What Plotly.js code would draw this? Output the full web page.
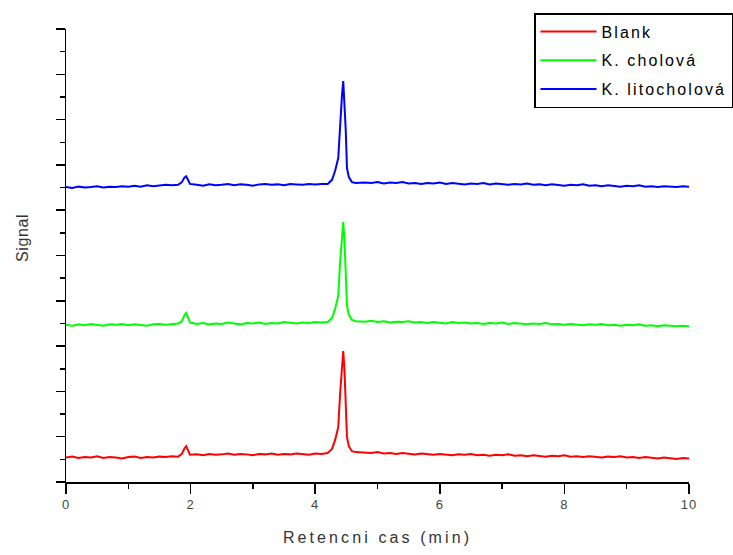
<!DOCTYPE html>
<html>
<head>
<meta charset="utf-8">
<script src="https://cdn.plot.ly/plotly-3.0.1.min.js"></script>
<style>
  html, body { margin: 0; padding: 0; background: #fff; }
  #chart { width: 733px; height: 555px; }
  .xtitle { letter-spacing: 3.1px; }
  .legendtext { letter-spacing: 2.1px; }
  .annotation-text { letter-spacing: 0.6px; }
  .xtick text { letter-spacing: 1px; }
</style>
</head>
<body>
<div id="chart"></div>
<script>
// Retention time (min)
const time = [
  0.0,0.1,0.2,0.3,0.4,0.5,0.6,0.7,0.8,0.9,1.0,1.1,1.2,1.3,1.4,1.5,1.6,1.7,1.8,
  1.86,1.90,1.93,1.96,1.99,
  2.1,2.2,2.3,2.4,2.5,2.6,2.7,2.8,2.9,3.0,3.1,3.2,3.3,3.4,3.5,3.6,3.7,3.8,3.9,4.0,4.1,
  4.20,4.27,4.32,4.37,4.40,4.43,4.45,4.47,4.49,4.51,4.54,4.59,4.65,
  4.8,4.9,5.0,5.1,5.2,5.3,5.4,5.5,5.6,5.7,5.8,5.9,6.0,6.1,6.2,6.3,6.4,6.5,6.6,6.7,
  6.8,6.9,7.0,7.1,7.2,7.3,7.4,7.5,7.6,7.7,7.8,7.9,8.0,8.1,8.2,8.3,8.4,8.5,8.6,8.7,
  8.8,8.9,9.0,9.1,9.2,9.3,9.4,9.5,9.6,9.7,9.8,9.9,10.0
];

// Signal (arbitrary units, offset traces)
const blank = [
  0.54,0.56,0.53,0.55,0.54,0.57,0.53,0.55,0.54,0.52,0.55,0.56,0.53,0.55,0.54,0.56,0.55,0.57,0.56,
  0.62,0.74,0.79,0.70,0.60,
  0.61,0.59,0.62,0.60,0.61,0.63,0.60,0.62,0.61,0.59,0.62,0.61,0.63,0.60,0.62,0.61,0.63,0.62,0.60,0.63,0.62,
  0.64,0.73,0.93,1.21,1.96,2.58,2.89,2.47,1.81,0.99,0.79,0.68,0.66,
  0.65,0.64,0.66,0.63,0.64,0.62,0.64,0.63,0.61,0.63,0.62,0.60,0.62,0.61,0.59,0.61,0.60,0.62,0.59,0.60,
  0.58,0.60,0.59,0.61,0.58,0.59,0.57,0.59,0.58,0.56,0.58,0.57,0.59,0.56,0.57,0.55,0.57,0.56,0.54,0.56,
  0.55,0.57,0.54,0.55,0.53,0.55,0.54,0.52,0.54,0.53,0.51,0.53,0.52
];

const cholova = [
  3.47,3.45,3.48,3.46,3.49,3.47,3.45,3.48,3.47,3.49,3.46,3.48,3.47,3.45,3.48,3.49,3.47,3.48,3.50,
  3.55,3.68,3.73,3.62,3.52,
  3.49,3.51,3.48,3.50,3.49,3.52,3.50,3.48,3.51,3.50,3.52,3.49,3.51,3.50,3.53,3.51,3.50,3.52,3.51,3.53,3.52,
  3.53,3.62,3.82,4.11,4.86,5.43,5.74,5.34,4.68,3.89,3.69,3.58,3.55,
  3.54,3.56,3.53,3.55,3.52,3.54,3.53,3.55,3.52,3.53,3.51,3.53,3.52,3.50,3.53,3.51,3.52,3.50,3.51,3.49,
  3.51,3.50,3.52,3.49,3.51,3.50,3.48,3.50,3.49,3.51,3.48,3.49,3.47,3.49,3.48,3.46,3.48,3.47,3.49,3.46,
  3.47,3.45,3.47,3.46,3.48,3.45,3.46,3.44,3.46,3.45,3.44,3.45,3.44
];

const litocholova = [
  6.51,6.49,6.52,6.50,6.51,6.53,6.50,6.52,6.51,6.53,6.52,6.54,6.52,6.55,6.53,6.54,6.56,6.55,6.56,
  6.62,6.72,6.75,6.66,6.58,
  6.56,6.54,6.57,6.55,6.56,6.58,6.55,6.57,6.56,6.54,6.57,6.58,6.56,6.57,6.55,6.58,6.57,6.56,6.58,6.57,6.58,
  6.58,6.67,6.87,7.15,7.95,8.54,8.85,8.43,7.77,6.93,6.73,6.62,6.60,
  6.61,6.60,6.62,6.59,6.61,6.60,6.62,6.59,6.60,6.58,6.60,6.59,6.61,6.58,6.60,6.59,6.57,6.59,6.58,6.60,
  6.57,6.59,6.58,6.56,6.58,6.57,6.59,6.56,6.57,6.55,6.57,6.56,6.54,6.56,6.55,6.57,6.54,6.55,6.53,6.55,
  6.54,6.52,6.54,6.53,6.55,6.52,6.53,6.51,6.53,6.52,6.51,6.53,6.52
];

const seriesNames = ["Blank", "K. cholová", "K. litocholová"];
const seriesColors = ["#ff0000", "#00ff00", "#0000ff"];
const xTickVals = [0, 2, 4, 6, 8, 10];
const xTickText = ["0", "2", "4", "6", "8", "10"];

const allSeries = [blank, cholova, litocholova];
const traces = allSeries.map((ys, i) => ({
  x: time,
  y: ys,
  type: "scatter",
  mode: "lines",
  name: seriesNames[i],
  legendgroup: "g" + i,
  line: { color: seriesColors[i], width: 2 }
}));

const font = "Liberation Sans, Arial, sans-serif";
// paper area spans x 66..733; the axes occupy 66..689
const paperW = 733 - 66;
const axisW = 689 - 66;

const layout = {
  width: 733,
  height: 555,
  margin: { l: 66, r: 0, t: 29, b: 73 },
  paper_bgcolor: "#ffffff",
  plot_bgcolor: "rgba(0,0,0,0)",
  font: { family: font, color: "#000" },
  showlegend: true,
  legend: {
    x: (534 - 66) / paperW, y: (482 - 13) / 453, xanchor: "left", yanchor: "top",
    bordercolor: "#000", borderwidth: 1.5,
    bgcolor: "#fff",
    font: { family: font, size: 16, color: "#000" },
    itemwidth: 56,
    traceorder: "grouped",
    tracegroupgap: 5
  },
  xaxis: {
    domain: [0, axisW / paperW],
    range: [0, 10],
    tickvals: xTickVals,
    ticktext: xTickText,
    ticks: "outside", ticklen: 10, tickwidth: 1.5, tickcolor: "#000",
    minor: { dtick: 1, ticks: "outside", ticklen: 5, tickwidth: 1.5, tickcolor: "#000", showgrid: false },
    showline: true, linecolor: "#000", linewidth: 1.5,
    showgrid: false, zeroline: false,
    automargin: false,
    tickfont: { family: font, size: 13, color: "#444" },
    title: { text: "Retencni cas (min)", font: { family: font, size: 16, color: "#333" }, standoff: 20 }
  },
  yaxis: {
    range: [0, 10],
    dtick: 1,
    ticks: "outside", ticklen: 9, tickwidth: 1.5, tickcolor: "#000",
    minor: { dtick: 0.5, ticks: "outside", ticklen: 5, tickwidth: 1.5, tickcolor: "#000", showgrid: false },
    showticklabels: false,
    showline: true, linecolor: "#000", linewidth: 1.5,
    showgrid: false, zeroline: false,
    automargin: false
  },
  annotations: [{
    text: "Signal",
    xref: "paper", yref: "paper",
    x: (22 - 66) / paperW, y: (482 - 238) / 453,
    xanchor: "center", yanchor: "middle",
    textangle: -90, showarrow: false,
    font: { family: font, size: 16, color: "#333" }
  }]
};

Plotly.newPlot("chart", traces, layout, { displayModeBar: false, staticPlot: true });
</script>
</body>
</html>
